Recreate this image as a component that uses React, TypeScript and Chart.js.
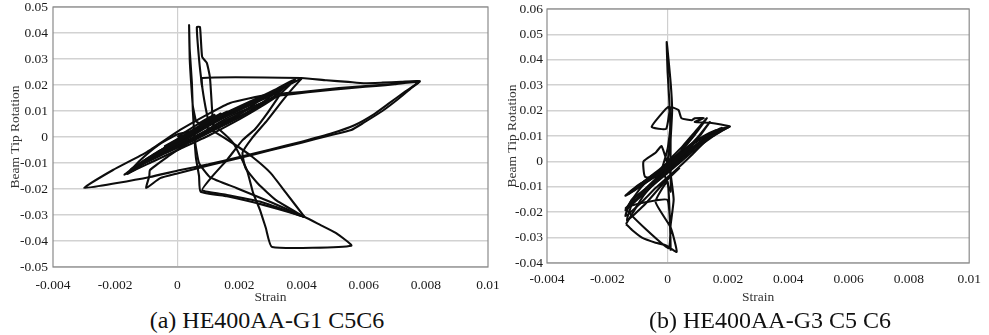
import React, { useEffect, useRef } from 'react';
import { Chart, registerables } from 'chart.js';
Chart.register(...registerables);

type P = [number, number];

// ---- axis ticks ----
const xTickValues = [-0.004, -0.002, 0, 0.002, 0.004, 0.006, 0.008, 0.01];
const xTickLabels = ['-0.004', '-0.002', '0', '0.002', '0.004', '0.006', '0.008', '0.01'];
const yTickValuesA = [-0.05, -0.04, -0.03, -0.02, -0.01, 0, 0.01, 0.02, 0.03, 0.04, 0.05];
const yTickLabelsA = ['-0.05', '-0.04', '-0.03', '-0.02', '-0.01', '0', '0.01', '0.02', '0.03', '0.04', '0.05'];
const yTickValuesB = [-0.04, -0.03, -0.02, -0.01, 0, 0.01, 0.02, 0.03, 0.04, 0.05, 0.06];
const yTickLabelsB = ['-0.04', '-0.03', '-0.02', '-0.01', '0', '0.01', '0.02', '0.03', '0.04', '0.05', '0.06'];

const xTitle = 'Strain';
const yTitle = 'Beam Tip Rotation';
const captionA = '(a) HE400AA-G1 C5C6';
const captionB = '(b) HE400AA-G3 C5 C6';

// ---- chart (a) traces: [strain, rotation] ----
const a1: P[] = [[0, 0], [0.0006, 0.0045], [0.0012, 0.0085], [0.0008, 0.005], [0.0002, 0.0005], [-0.0004, -0.0035], [0.0001, -0.0005], [0.0007, 0.004], [0.0014, 0.009], [0.0009, 0.0048], [0.0002, -0.0005], [-0.0006, -0.0055], [0, -0.0015], [0.0008, 0.0045], [0.0016, 0.0098], [0.001, 0.0045], [0.0002, -0.0015], [-0.0008, -0.0075]];
const a2: P[] = [[-0.0008, -0.0075], [-0.0002, -0.0025], [0.0007, 0.004], [0.0016, 0.0095], [0.0025, 0.0145], [0.0032, 0.0185], [0.0038, 0.0223], [0.0033, 0.0165], [0.0026, 0.011], [0.0018, 0.0055], [0.001, 0.0005], [0.0001, -0.0045], [-0.0008, -0.0095], [-0.0017, -0.0145], [-0.001, -0.0085], [-0.0002, -0.003], [0.0007, 0.0035], [0.0017, 0.0095], [0.0027, 0.015], [0.0034, 0.019], [0.004, 0.0225]];
const a3: P[] = [[0.004, 0.0225], [0.0037, 0.0185], [0.0034, 0.0142], [0.0029, 0.0065], [0.0024, -0.0005], [0.0021, -0.006], [0.0022, -0.012], [0.0026, -0.018], [0.0032, -0.0245], [0.0041, -0.0308]];
const a4: P[] = [[0.0041, -0.0308], [0.003, -0.025], [0.0019, -0.0196], [0.00105, -0.0154], [0.0007, -0.01], [0.0006, -0.004], [0.0005, 0.002], [0, 0.001], [-0.0006, -0.003], [-0.0012, -0.009], [-0.0016, -0.0142], [-0.0009, -0.009], [0, -0.0035], [0.001, 0.003], [0.002, 0.009], [0.0028, 0.0135], [0.0033, 0.0162]];
const a5: P[] = [[0.0033, 0.0162], [0.0029, 0.0092], [0.0025, 0.003], [0.0021, -0.0012], [0.0016, -0.0088], [0.0011, -0.0155], [0.0008, -0.0205], [0.0016, -0.0223], [0.0027, -0.025], [0.0041, -0.0308]];
const a6: P[] = [[0.0041, -0.0308], [0.0035, -0.0215], [0.003, -0.0138], [0.0024, -0.0075], [0.0018, -0.0025], [0.0012, 0.002], [0.0006, 0.006]];
const a7: P[] = [[0.0006, 0.006], [0.0005, 0.012], [0.00045, 0.02], [0.0004, 0.03], [0.00038, 0.043], [0.0004, 0.0335], [0.00047, 0.0208], [0.0005, 0.0104], [0.00055, 0], [0.0006, -0.008], [0.0007, -0.015], [0.00075, -0.021], [0.0016, -0.0228], [0.0028, -0.0262], [0.0041, -0.0308], [0.0046, -0.0338], [0.0051, -0.0369], [0.0056, -0.0418], [0.00305, -0.0423], [0.00285, -0.035], [0.00266, -0.028], [0.00244, -0.0215], [0.00224, -0.0127], [0.0018, -0.0023], [0.00137, 0.0027], [0.001, 0.006]];
const a8: P[] = [[0.001, 0.006], [0.0009, 0.012], [0.0008, 0.0195], [0.0007, 0.03], [0.00063, 0.0423], [0.00073, 0.0423], [0.0008, 0.0308], [0.00095, 0.0285], [0.00105, 0.023], [0.00112, 0.0104], [0.00115, 0.0054], [0.0012, 0.003]];
const a9: P[] = [[0.0008, 0.0192], [0.0008, 0.0227], [0.004, 0.0227], [0.0048, 0.0218], [0.0055, 0.0212], [0.006, 0.0207], [0.0066, 0.0209], [0.0072, 0.0212], [0.0078, 0.0215], [0.0075, 0.0185], [0.0071, 0.0145], [0.0066, 0.01], [0.006, 0.0055], [0.0056, 0.0027], [0.0049, 0.0006], [0.004, -0.0022], [0.003, -0.0051], [0.002, -0.0081], [0.001, -0.011], [0, -0.014], [-0.00055, -0.0158], [-0.001, -0.0196], [-0.0009, -0.015], [-0.00088, -0.0127], [-0.0003, -0.0075], [0.0005, -0.001], [0.0012, 0.0045], [0.0018, 0.0085], [0.0026, 0.0125], [0.0033, 0.016]];
const a10: P[] = [[0.0033, 0.016], [0.0042, 0.0172], [0.005, 0.0182], [0.0057, 0.019], [0.0064, 0.0196], [0.007, 0.0203], [0.0078, 0.0214], [0.0073, 0.0172], [0.0068, 0.0128], [0.0063, 0.0085], [0.0057, 0.0045], [0.005, 0.0015], [0.004, -0.0018], [0.003, -0.0048], [0.002, -0.0077], [0.001, -0.0105], [0.0001, -0.0127], [-0.00088, -0.0154], [-0.00194, -0.0177], [-0.003, -0.0196], [-0.00207, -0.0127], [-0.00098, -0.0058], [0.00009, 0.0027], [0.00105, 0.0092], [0.0017, 0.0131], [0.0029, 0.0162], [0.004, 0.0173], [0.0052, 0.0188], [0.0065, 0.02], [0.0077, 0.0212]];
const a11: P[] = [[0.0012, 0.003], [0.0005, -0.0015], [-0.0005, -0.0068], [-0.0012, -0.0108], [-0.0016, -0.0138], [-0.0011, -0.0098], [-0.0004, -0.0052], [0.0005, 0.0008], [0.0014, 0.0068], [0.0023, 0.012], [0.003, 0.0158], [0.0036, 0.0205], [0.0031, 0.0155], [0.0024, 0.0102], [0.0016, 0.0052], [0.0008, 0.0012], [-0.0002, -0.0042], [-0.001, -0.0088], [-0.0015, -0.0125], [-0.0007, -0.0062], [0.0002, -0.0005], [0.0011, 0.0058], [0.0019, 0.0105], [0.0027, 0.0148], [0.0033, 0.0185]];
const a12: P[] = [[0.0033, 0.0185], [0.0027, 0.0128], [0.002, 0.0078], [0.0012, 0.0028], [0.0004, -0.0018], [-0.0004, -0.0062], [-0.0011, -0.0102], [-0.0006, -0.0058], [0.0002, -0.0008], [0.001, 0.0048], [0.0018, 0.0098], [0.0026, 0.0138], [0.0021, 0.0095], [0.0013, 0.0042], [0.0005, -0.0005], [-0.0003, -0.0052]];

// ---- chart (b) traces ----
const b1: P[] = [[0, 0], [0.0001, 0.01], [0.00005, 0.025], [0, 0.035], [-0.00003, 0.047], [0.0001, 0.031], [0.00015, 0.02], [0.0001, 0.0085], [0.0001, -0.005], [0.0001, -0.012], [-0.0001, -0.005], [0, 0]];
const b2: P[] = [[0, 0], [0.0005, 0.006], [0.0009, 0.0115], [0.0013, 0.017], [0.0009, 0.0105], [0.0004, 0.0035], [-0.0002, -0.003], [-0.0008, -0.008], [-0.0013, -0.0128], [-0.0008, -0.0088], [-0.0002, -0.0042], [0.0004, 0.0015], [0.0009, 0.0075], [0.0014, 0.0155], [0.001, 0.0095], [0.0005, 0.0035], [-0.0001, -0.0022], [-0.0007, -0.0072], [-0.0012, -0.0118]];
const b3: P[] = [[-0.0012, -0.0118], [-0.0006, -0.0062], [0, -0.0008], [0.0007, 0.0045], [0.0014, 0.0095], [0.00206, 0.0137], [0.0015, 0.0118], [0.0009, 0.0078], [0.0003, 0.0025], [-0.0003, -0.0035], [-0.0009, -0.0105], [-0.00138, -0.0187], [-0.0009, -0.0135], [-0.0003, -0.0075], [0.0003, -0.0015], [0.0009, 0.0045], [0.0015, 0.0098], [0.002, 0.0135], [0.0016, 0.0112], [0.001, 0.0068], [0.0004, 0.0008], [-0.0002, -0.0055], [-0.0008, -0.0135], [-0.00138, -0.0247]];
const b4: P[] = [[-0.00138, -0.0247], [-0.00118, -0.027], [-0.00085, -0.03], [-0.0004, -0.032], [-0.00007, -0.033], [0.0003, -0.0356], [0.0001, -0.026], [-0.0004, -0.0159], [0, -0.008], [0.0001, -0.0348], [0, -0.0152], [-0.0007, -0.016], [-0.00139, -0.0185], [0.00003, -0.0342], [0.0001, -0.025], [0.0002, -0.015], [0.0001, -0.005]];
const b5: P[] = [[0.0001, -0.005], [-0.0002, 0.006], [-0.0004, 0.0034], [-0.0008, 0], [-0.00075, -0.006], [-0.0003, -0.006], [0, 0.005], [0.0001, 0.015], [0.00003, 0.0215], [-0.00053, 0.0136], [-0.00005, 0.0128], [0.0001, 0.0213], [0.00036, 0.0202], [0.00046, 0.017], [0.0008, 0.0162], [0.0009, 0.017], [0.0012, 0.017], [0.0009, 0.0155], [0.0014, 0.0152], [0.00206, 0.0137], [0.0012, 0.0095], [0.0005, 0.004], [0, -0.002]];
const b6: P[] = [[0, -0.002], [-0.0005, -0.006], [-0.001, -0.0095], [-0.0014, -0.0135], [-0.0009, -0.0098], [-0.0003, -0.0048], [0.0003, 0.0008], [0.0009, 0.0062], [0.0015, 0.0115], [0.0018, 0.0132], [0.0012, 0.0085], [0.0006, 0.0032], [0, -0.0025], [-0.0006, -0.0092], [-0.0011, -0.0155], [-0.0014, -0.0192], [-0.0008, -0.0128], [-0.0002, -0.0062], [0.0004, 0.0002], [0.001, 0.0062], [0.0016, 0.0122]];
const b7: P[] = [[0.0016, 0.0122], [0.0011, 0.0078], [0.0005, 0.002], [-0.0001, -0.0045], [-0.0007, -0.0105], [-0.0012, -0.0152], [-0.0014, -0.0215], [-0.0009, -0.0165], [-0.0004, -0.0105], [0.0002, -0.0042], [0.0008, 0.0025], [0.0013, 0.0085], [0.0019, 0.0128], [0.0014, 0.0098], [0.0007, 0.0038], [0.0001, -0.0022], [-0.0005, -0.0085], [-0.0011, -0.0145], [-0.00135, -0.0232], [-0.0008, -0.0175], [-0.0002, -0.0095], [0.0004, -0.0025]];

const tracesA = [a1, a2, a3, a4, a5, a6, a7, a8, a9, a10, a11, a12];
const tracesB = [b1, b2, b3, b4, b5, b6, b7];

const SERIF = '"Liberation Serif", "Times New Roman", serif';

interface Box { cw: number; ch: number; left: number; top: number; right: number; bottom: number; yMin: number; yMax: number; xPad: number; yPad: number; yTitlePad: number; }

const framePlugin = {
  id: 'frame',
  beforeDatasetsDraw(chart: any) {
    const { ctx, chartArea: a } = chart;
    ctx.save();
    ctx.strokeStyle = '#8a8a8a';
    ctx.lineWidth = 1.2;
    ctx.strokeRect(a.left, a.top, a.right - a.left, a.bottom - a.top);
    ctx.restore();
  },
};

function makeConfig(traces: P[][], yVals: number[], yLabels: string[], b: Box): any {
  return {
    type: 'scatter',
    data: {
      datasets: traces.map((t) => ({
        data: t.map(([x, y]) => ({ x, y })),
        showLine: true,
        pointRadius: 0,
        borderColor: '#0d0d0d',
        borderWidth: 2.1,
        tension: 0.15,
        fill: false,
      })),
    },
    options: {
      animation: false,
      responsive: false,
      maintainAspectRatio: false,
      layout: { padding: { left: 0, top: b.top, right: b.cw - b.right, bottom: 0 } },
      plugins: { legend: { display: false }, tooltip: { enabled: false } },
      scales: {
        x: {
          type: 'linear',
          min: -0.004,
          max: 0.01,
          afterBuildTicks: (s: any) => { s.ticks = xTickValues.map((v) => ({ value: v })); },
          afterFit: (s: any) => { s.height = b.ch - b.bottom; },
          ticks: {
            callback: (_v: any, i: number) => xTickLabels[i],
            font: { family: SERIF, size: 13.5 },
            color: '#1a1a1a',
            padding: b.xPad,
            maxRotation: 0,
            autoSkip: false,
          },
          grid: {
            color: (ctx: any) => (ctx.tick && Math.abs(ctx.tick.value) < 1e-9 ? '#cfcfcf' : 'rgba(0,0,0,0)'),
            lineWidth: 1.2,
            drawTicks: false,
          },
          border: { display: false },
          title: { display: true, text: xTitle, font: { family: SERIF, size: 13.5 }, color: '#333', padding: { top: 0, bottom: 0 } },
        },
        y: {
          type: 'linear',
          min: b.yMin,
          max: b.yMax,
          afterBuildTicks: (s: any) => { s.ticks = yVals.map((v) => ({ value: v })); },
          afterFit: (s: any) => { s.width = b.left; },
          ticks: {
            callback: (_v: any, i: number) => yLabels[i],
            font: { family: SERIF, size: 13.5, lineHeight: 0.1 },
            color: '#1a1a1a',
            padding: b.yPad,
            autoSkip: false,
          },
          grid: { color: '#d2d2d2', lineWidth: 1.5, drawTicks: false },
          border: { display: false },
          title: { display: true, text: yTitle, font: { family: SERIF, size: 13.5 }, color: '#333', padding: { top: b.yTitlePad, bottom: 0 } },
        },
      },
    },
    plugins: [framePlugin],
  };
}

function ChartCanvas({ traces, yVals, yLabels, box, x }: { traces: P[][]; yVals: number[]; yLabels: string[]; box: Box; x: number }) {
  const ref = useRef<HTMLCanvasElement | null>(null);
  useEffect(() => {
    if (!ref.current) return;
    const chart = new Chart(ref.current, makeConfig(traces, yVals, yLabels, box));
    return () => chart.destroy();
  }, []);
  return (
    <canvas
      ref={ref}
      width={box.cw}
      height={box.ch}
      style={{ position: 'absolute', left: x, top: 0, width: box.cw, height: box.ch }}
    />
  );
}

const boxA: Box = { cw: 510, ch: 306, left: 53, top: 7, right: 488, bottom: 267, yMin: -0.05, yMax: 0.05, xPad: 10, yPad: 5, yTitlePad: 7 };
const boxB: Box = { cw: 494, ch: 306, left: 52, top: 9, right: 479, bottom: 263, yMin: -0.04, yMax: 0.06, xPad: 8, yPad: 4, yTitlePad: 9 };

const captionStyle = (cx: number): React.CSSProperties => ({
  position: 'absolute',
  left: cx,
  top: 308,
  transform: 'translateX(-50%)',
  fontFamily: SERIF,
  fontSize: 24,
  lineHeight: '24px',
  whiteSpace: 'nowrap',
  color: '#111',
});

export default function App() {
  return (
    <div style={{ position: 'absolute', left: 0, top: 0, width: 989, height: 335, background: '#fff', overflow: 'hidden' }}>
      <ChartCanvas traces={tracesA} yVals={yTickValuesA} yLabels={yTickLabelsA} box={boxA} x={0} />
      <ChartCanvas traces={tracesB} yVals={yTickValuesB} yLabels={yTickLabelsB} box={boxB} x={495} />
      <div style={captionStyle(267)}>{captionA}</div>
      <div style={captionStyle(770)}>{captionB}</div>
    </div>
  );
}
